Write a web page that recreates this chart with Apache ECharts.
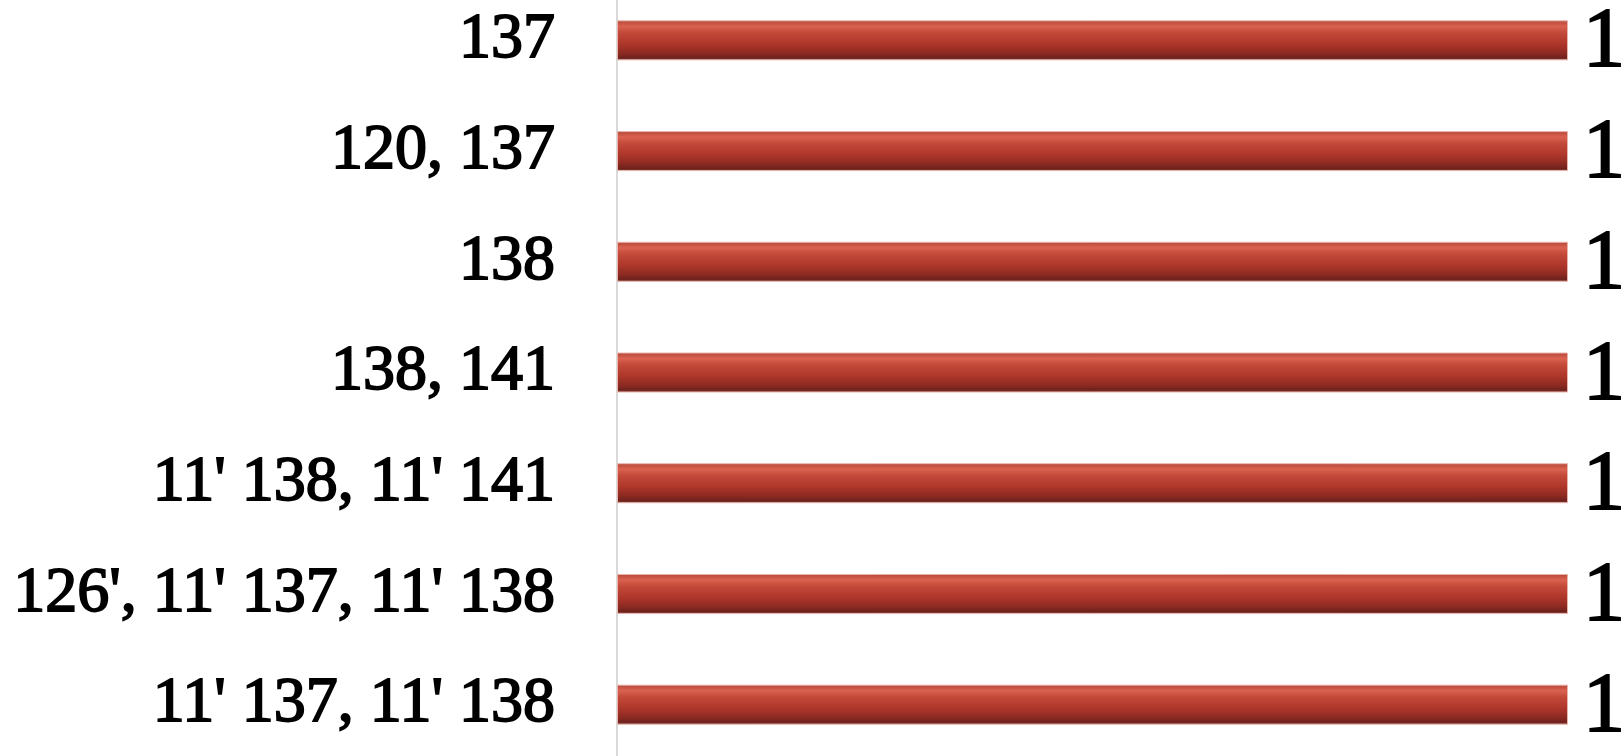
<!DOCTYPE html>
<html>
<head>
<meta charset="utf-8">
<script src="https://cdn.jsdelivr.net/npm/echarts@6/dist/echarts.min.js"></script>
<style>html,body{margin:0;padding:0;background:#fff;overflow:hidden;width:1624px;height:756px;}#c{width:1624px;height:775px;margin-top:-15px;}</style>
</head>
<body>
<div id="c"></div>
<script>
const categories = ["137", "120, 137", "138", "138, 141", "11' 138, 11' 141", "126', 11' 137, 11' 138", "11' 137, 11' 138"];
const values = [1, 1, 1, 1, 1, 1, 1];

const chart = echarts.init(document.getElementById('c'));
const barGrad = new echarts.graphic.LinearGradient(0, 0, 0, 1, [
  {offset: 0, color: '#b5463a'},
  {offset: 0.15, color: '#da624f'},
  {offset: 0.3, color: '#c44a3a'},
  {offset: 0.6, color: '#ad362a'},
  {offset: 0.82, color: '#8c2a22'},
  {offset: 0.94, color: '#6e221c'},
  {offset: 1, color: '#8a4640'}
]);
chart.setOption({
  animation: false,
  grid: {left: 617, right: 56, top: 0, bottom: 0, containLabel: false},
  xAxis: {type: 'value', min: 0, max: 1, show: false},
  yAxis: {
    type: 'category', data: categories, inverse: true,
    axisLine: {show: true, lineStyle: {color: '#d9d9d9', width: 2}},
    axisTick: {show: false},
    axisLabel: {fontFamily: '"Liberation Serif", serif', fontSize: 64, color: '#000', textBorderColor: '#000', textBorderWidth: 1.8, margin: 62}
  },
  series: [{
    type: 'bar', data: values, barWidth: 40,
    itemStyle: {color: barGrad, borderColor: '#e8b4ac', borderWidth: 1},
    label: {show: true, position: 'right', distance: 15, fontFamily: '"Liberation Serif", serif', fontSize: 84, color: '#000', textBorderColor: '#000', textBorderWidth: 2, offset: [0, 4]}
  }]
});
</script>
</body>
</html>
